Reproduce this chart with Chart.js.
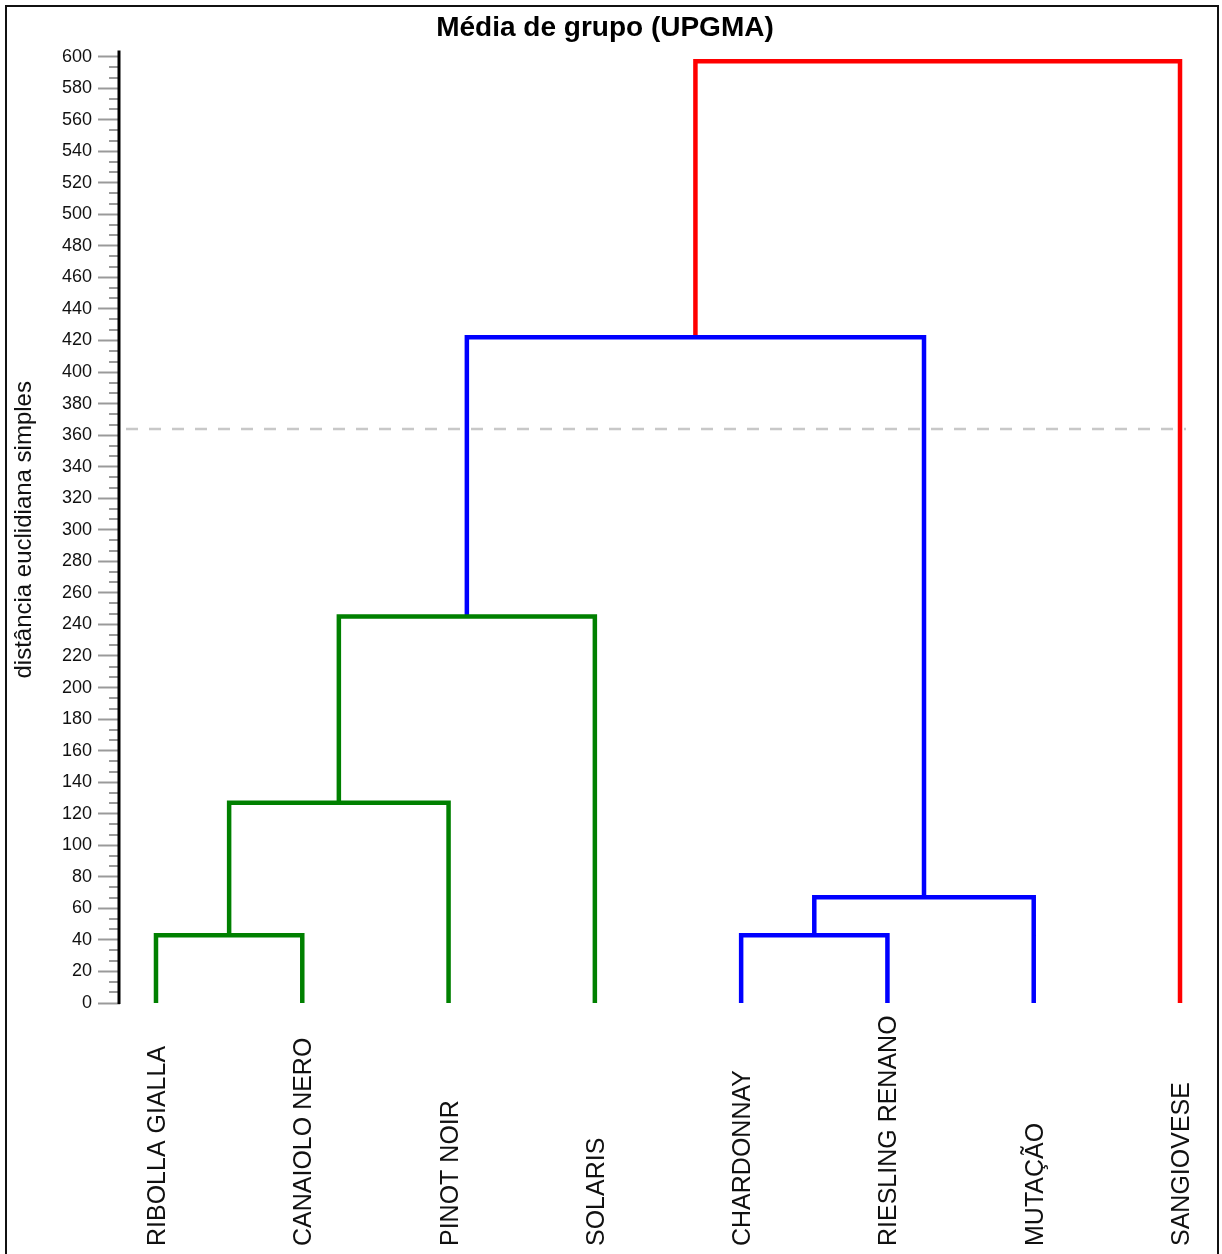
<!DOCTYPE html>
<html>
<head>
<meta charset="utf-8">
<title>Média de grupo (UPGMA)</title>
<script src="https://cdn.jsdelivr.net/npm/chart.js@4/dist/chart.umd.min.js"></script>
<style>
  html, body { margin: 0; padding: 0; background: #fff; }
  #wrap { position: relative; width: 1222px; height: 1254px; }
</style>
</head>
<body>
<div id="wrap"><canvas id="dendro"></canvas></div>
<script>
// Leaves of the dendrogram, left to right
const leafLabels = ['RIBOLLA GIALLA', 'CANAIOLO NERO', 'PINOT NOIR', 'SOLARIS',
                    'CHARDONNAY', 'RIESLING RENANO', 'MUTAÇÃO', 'SANGIOVESE'];

// Merge steps: node ids 0..7 are leaves, each merge creates node 8, 9, ...
const mergeLeft   = [0, 8, 9, 4, 11, 10, 13];
const mergeRight  = [1, 2, 3, 5, 6, 12, 7];
const mergeHeight = [43, 127, 245, 43, 67, 422, 597];
const mergeColor  = ['#008000', '#008000', '#008000', '#0000ff', '#0000ff', '#0000ff', '#ff0000'];

// Cut level (dashed line)
const cutHeight = 364;

// Y axis ticks
const yMin = 0, yMax = 600, yStep = 20, yMinorPerStep = 3;

const chartTitle = 'Média de grupo (UPGMA)';
const yTitle = 'distância euclidiana simples';

const FONT = "'Liberation Sans', Arial, sans-serif";

// Node position (x) and height (y) for every leaf and merge
const nodeX = leafLabels.map((_, i) => i);
const nodeY = leafLabels.map(() => 0);
mergeLeft.forEach((l, k) => {
  const r = mergeRight[k];
  nodeX.push((nodeX[l] + nodeX[r]) / 2);
  nodeY.push(mergeHeight[k]);
});

// One U-shaped link per merge
const datasets = mergeLeft.map((l, k) => {
  const r = mergeRight[k];
  const h = mergeHeight[k];
  return {
    data: [
      { x: nodeX[l], y: nodeY[l] },
      { x: nodeX[l], y: h },
      { x: nodeX[r], y: h },
      { x: nodeX[r], y: nodeY[r] }
    ],
    borderColor: mergeColor[k],
    backgroundColor: mergeColor[k],
    borderWidth: 4.5,
    borderJoinStyle: 'miter',
    borderCapStyle: 'butt',
    showLine: true,
    pointRadius: 0,
    pointHoverRadius: 0,
    tension: 0,
    fill: false,
    clip: false
  };
});

const decorations = {
  id: 'decorations',
  beforeDraw(chart) {
    const ctx = chart.ctx;
    ctx.save();
    ctx.fillStyle = '#fff';
    ctx.fillRect(0, 0, chart.width, chart.height);
    ctx.restore();
  },
  afterDraw(chart) {
    const { ctx, chartArea, scales: { x, y } } = chart;
    ctx.save();
    // minor ticks
    ctx.strokeStyle = '#9a9a9a';
    ctx.lineWidth = 2;
    const minorStep = yStep / yMinorPerStep;
    for (let v = yMin; v <= yMax + 1e-6; v += minorStep) {
      const onMajor = Math.abs(v / yStep - Math.round(v / yStep)) < 1e-6;
      if (onMajor) continue;
      const py = Math.round(y.getPixelForValue(v));
      ctx.beginPath();
      ctx.moveTo(chartArea.left - 11, py);
      ctx.lineTo(chartArea.left, py);
      ctx.stroke();
    }
    // axis line
    ctx.strokeStyle = '#000';
    ctx.lineWidth = 3;
    ctx.beginPath();
    ctx.moveTo(chartArea.left - 1, y.getPixelForValue(yMax) - 6);
    ctx.lineTo(chartArea.left - 1, y.getPixelForValue(yMin) + 1);
    ctx.stroke();

    // leaf labels, rotated, reading upwards
    ctx.fillStyle = '#111';
    ctx.font = '25px ' + FONT;
    ctx.textAlign = 'left';
    ctx.textBaseline = 'alphabetic';
    const capHalf = 25 * 0.716 / 2;
    leafLabels.forEach((lab, i) => {
      const px = x.getPixelForValue(i);
      ctx.save();
      ctx.translate(px + capHalf, 1246);
      ctx.rotate(-Math.PI / 2);
      ctx.fillText(lab, 0, 0);
      ctx.restore();
    });

    // frame
    ctx.strokeStyle = '#111';
    ctx.lineWidth = 2;
    ctx.strokeRect(6, 6, 1212, 1260);
    ctx.restore();
  },
  afterDatasetsDraw(chart) {
    const { ctx, chartArea, scales: { x, y } } = chart;
    const py = Math.round(y.getPixelForValue(cutHeight));
    ctx.save();
    ctx.strokeStyle = '#c8c8c8';
    ctx.lineWidth = 2.5;
    ctx.setLineDash([12, 11]);
    ctx.beginPath();
    ctx.moveTo(chartArea.left + 6, py);
    ctx.lineTo(x.getPixelForValue(leafLabels.length - 1) + 6, py);
    ctx.stroke();
    ctx.restore();
  }
};

Chart.defaults.color = '#111';
Chart.defaults.font.family = FONT;

new Chart(document.getElementById('dendro'), {
  type: 'scatter',
  data: { datasets },
  options: {
    responsive: true,
    maintainAspectRatio: false,
    animation: false,
    events: [],
    layout: { padding: { left: 0, right: 12, top: 0, bottom: 251 } },
    plugins: {
      legend: { display: false },
      tooltip: { enabled: false },
      title: {
        display: true,
        text: chartTitle,
        color: '#000',
        font: { size: 28, weight: 'bold', family: FONT },
        padding: { top: 11, bottom: 12 }
      }
    },
    scales: {
      x: {
        type: 'linear',
        display: false,
        min: -0.246,
        max: 7.205
      },
      y: {
        type: 'linear',
        min: yMin,
        max: yMax,
        afterFit(scale) { scale.width = 120; },
        ticks: {
          stepSize: yStep,
          padding: 6,
          color: '#111',
          font: { size: 18, family: FONT }
        },
        grid: {
          drawOnChartArea: false,
          drawTicks: true,
          tickLength: 22,
          tickColor: '#9a9a9a',
          tickWidth: 2
        },
        border: { display: false },
        title: {
          display: true,
          text: yTitle,
          color: '#111',
          font: { size: 24, family: FONT },
          padding: { top: 10, bottom: 0 }
        }
      }
    }
  },
  plugins: [decorations]
});
</script>
</body>
</html>
